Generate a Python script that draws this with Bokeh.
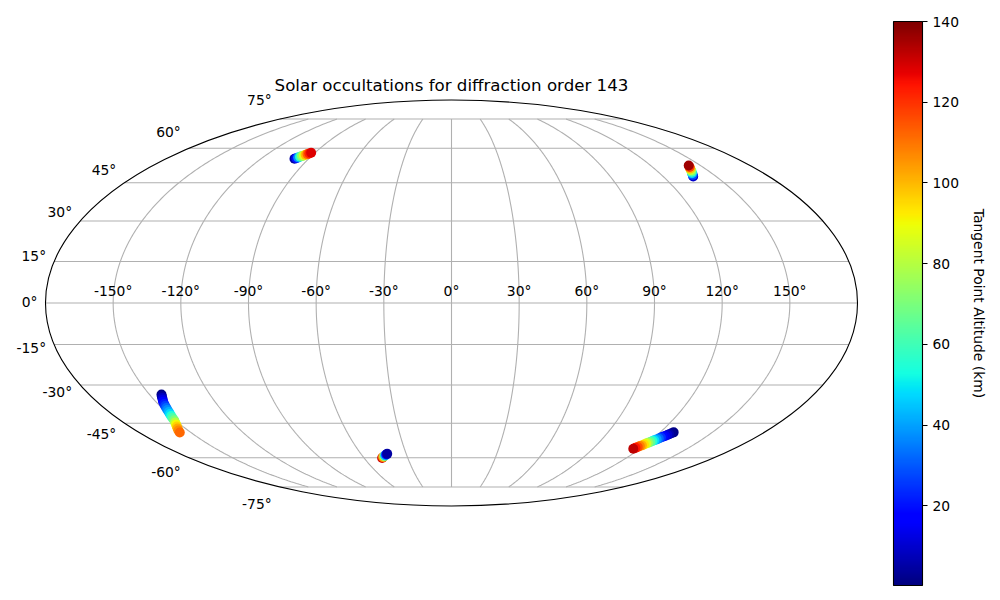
import numpy as np
from bokeh.plotting import figure
from bokeh.models import ColumnDataSource, ColorBar, FixedTicker, LinearColorMapper
from bokeh.core.properties import value
from bokeh.embed import file_html
from bokeh.resources import INLINE

TITLE = "Solar occultations for diffraction order 143"
CBAR_LABEL = "Tangent Point Altitude (km)"
lon_ticks = [-150, -120, -90, -60, -30, 0, 30, 60, 90, 120, 150]
lat_ticks = [-75, -60, -45, -30, -15, 0, 15, 30, 45, 60, 75]
cbar_ticks = [20, 40, 60, 80, 100, 120, 140]
alt_low, alt_high = 0.3, 140.0

# lower-left track
lon_a = [-144.0, -144.6, -145.1, -145.7, -146.3, -146.8, -147.3, -147.7, -148.2, -148.6,
         -149.1, -149.6, -150.1, -150.6, -151.5, -152.5, -153.5, -154.5, -155.5, -156.5]
lat_a = [-33.6, -34.3, -35.0, -35.7, -36.4, -37.3, -38.1, -38.9, -39.7, -40.5,
         -41.3, -42.1, -42.9, -43.8, -44.7, -45.6, -46.4, -47.2, -48.0, -48.9]
alt_a = [1, 4, 8, 12, 17, 22, 27, 32, 37, 42, 48, 55, 62, 70, 80, 90, 96, 102, 107, 112]
# lower-right track
lon_b = [127.8, 127.2, 126.5, 125.9, 125.3, 124.6, 124.0, 123.4, 122.8, 122.1,
         121.5, 120.9, 120.2, 119.6, 119.0, 118.4, 117.7, 117.1, 116.4, 115.8]
lat_b = [-48.8, -49.2, -49.6, -49.9, -50.3, -50.7, -51.0, -51.4, -51.8, -52.2,
         -52.5, -52.9, -53.3, -53.6, -54.0, -54.4, -54.7, -55.1, -55.5, -55.9]
alt_b = [1, 3, 6, 10, 14, 19, 25, 32, 40, 48, 56, 66, 76, 86, 94, 101, 108, 116, 124, 132]
# upper-left track
lon_c = [-98.9, -98.2, -97.5, -96.8, -96.1, -95.3, -94.6, -93.9, -93.2, -92.5]
lat_c = [55.2, 55.5, 55.8, 56.1, 56.4, 56.7, 57.0, 57.3, 57.6, 57.9]
alt_c = [5, 20, 38, 56, 72, 86, 100, 112, 122, 128]
# upper-right track
lon_d = [137.0, 137.9, 138.7, 139.6, 140.4, 141.3, 142.1, 143.0]
lat_d = [47.6, 48.3, 49.0, 49.6, 50.3, 51.0, 51.6, 52.3]
alt_d = [10, 28, 46, 64, 82, 100, 118, 136]
# bottom-centre track
lon_e = [-47.6, -46.6, -45.5, -44.5, -43.5, -42.6]
lat_e = [-60.1, -59.7, -59.3, -58.9, -58.5, -58.2]
alt_e = [130, 105, 75, 45, 20, 5]


def mollweide(lon, lat):
    lon = np.radians(np.asarray(lon, dtype=float))
    lat = np.radians(np.asarray(lat, dtype=float))
    th = lat.copy()
    for _ in range(60):
        d = 2 * np.cos(2 * th) + 2
        d = np.where(np.abs(d) < 1e-9, 1e-9, d)
        th = th - (2 * th + np.sin(2 * th) - np.pi * np.sin(lat)) / d
    x = 2 * np.sqrt(2) / np.pi * lon * np.cos(th)
    y = np.sqrt(2) * np.sin(th)
    return x, y


def jet(n=256):
    t = np.linspace(0, 1, n)
    r = np.interp(t, [0, .35, .66, .89, 1], [0, 0, 1, 1, .5])
    g = np.interp(t, [0, .125, .375, .64, .91, 1], [0, 0, 1, 1, 0, 0])
    b = np.interp(t, [0, .11, .34, .65, 1], [.5, 1, 1, 0, 0])
    return ["#%02x%02x%02x" % (int(a * 255), int(c * 255), int(e * 255)) for a, c, e in zip(r, g, b)]


W, H = 992, 592
CX, CY, SCALE = 451, 302.5, 406 / (2 * np.sqrt(2))
FONT = value("DejaVu Sans")
p = figure(width=W, height=H, x_range=(-CX / SCALE, (W - CX) / SCALE),
           y_range=((CY - H) / SCALE, CY / SCALE),
           output_backend="svg", toolbar_location=None, min_border=0,
           x_axis_location=None, y_axis_location=None, outline_line_color=None)
p.grid.visible = False
p.background_fill_color = None
p.border_fill_color = None

GRID = dict(line_color="#b0b0b0", line_width=1.1)
for lat in lat_ticks:
    x, y = mollweide(np.arange(-180, 180.5, 1.0), np.full(361, float(lat)))
    p.line(x, y, **GRID)
for lon in lon_ticks:
    x, y = mollweide(np.full(301, float(lon)), np.linspace(-75, 75, 301))
    p.line(x, y, **GRID)
p.ellipse(x=[0], y=[0], width=[4 * np.sqrt(2)], height=[2 * np.sqrt(2)],
          fill_color=None, line_color="black", line_width=1.1)

lons = lon_a + lon_b + lon_c + lon_d + lon_e
lats = lat_a + lat_b + lat_c + lat_d + lat_e
alts = alt_a + alt_b + alt_c + alt_d + alt_e
px, py = mollweide(lons, lats)
mapper = LinearColorMapper(palette=jet(), low=alt_low, high=alt_high)
src = ColumnDataSource(dict(x=px, y=py, alt=alts))
p.scatter("x", "y", source=src, size=10, line_color=None,
          fill_color={"field": "alt", "transform": mapper})

# longitude labels above the equator
xl, yl = mollweide(lon_ticks, [0.0] * len(lon_ticks))
p.text(xl, yl, text=[f"{v}°" for v in lon_ticks], text_font=FONT, text_font_size="13.89px",
       text_align="center", text_baseline="bottom", y_offset=-4, text_color="black")
# latitude labels at the left edge
xe, ye = mollweide([-180.0] * len(lat_ticks), lat_ticks)
p.text(xe, ye * 1.1, text=[f"{v}°" for v in lat_ticks], text_font=FONT, text_font_size="13.89px",
       text_align="right", text_baseline="middle", x_offset=-8, y_offset=-1, text_color="black")
# title and colour bar label
p.text([0], [(CY - 84.5) / SCALE], text=[TITLE], text_font=FONT, text_font_size="16.67px",
       text_align="center", text_baseline="middle", text_color="black")
p.text([(978 - CX) / SCALE], [(CY - 303) / SCALE], text=[CBAR_LABEL], text_font=FONT,
       text_font_size="13.89px", angle=-np.pi / 2, text_align="center", text_baseline="middle",
       text_color="black")

cb = ColorBar(color_mapper=mapper, ticker=FixedTicker(ticks=cbar_ticks), location=(893, H - 585),
              width=29, height=564, padding=0, margin=0,
              bar_line_color="black", bar_line_width=1.1,
              major_tick_in=0, major_tick_out=5, major_tick_line_color="black", major_tick_line_width=1.1,
              minor_tick_line_color=None, label_standoff=5,
              major_label_text_font="DejaVu Sans", major_label_text_font_size="13.89px",
              major_label_text_color="black", background_fill_color=None, border_line_color=None)
p.add_layout(cb)

open("out.html", "w").write(file_html(p, INLINE))
